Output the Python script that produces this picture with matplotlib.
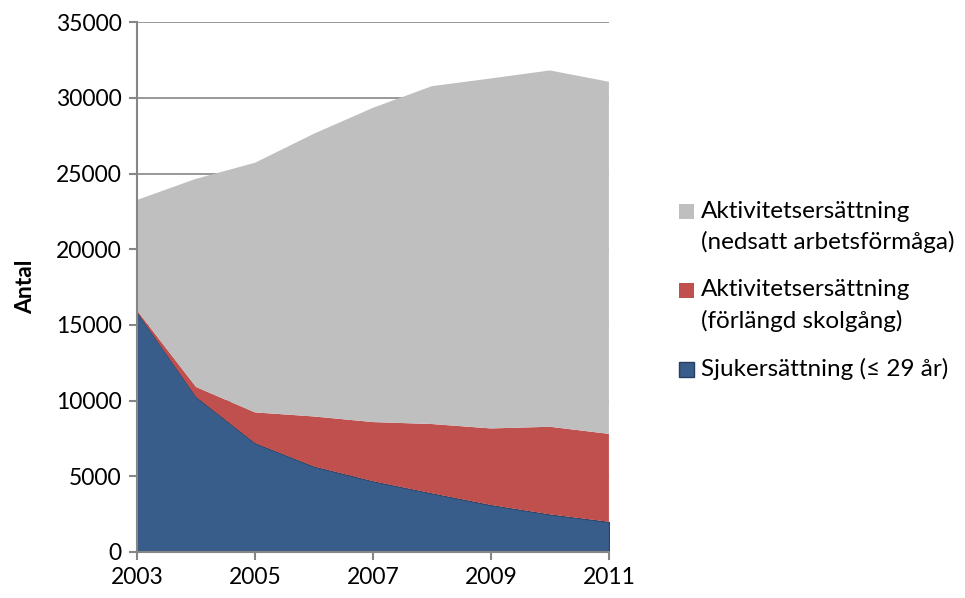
import numpy as np
import matplotlib.pyplot as plt
from matplotlib.patches import Rectangle

plt.rcParams['font.family'] = ['Lato', 'DejaVu Sans']

years = [2003, 2004, 2005, 2006, 2007, 2008, 2009, 2010, 2011]
sjuk = [15850, 10240, 7190, 5640, 4670, 3870, 3100, 2480, 1990]
skolgang = [100, 660, 2030, 3310, 3910, 4580, 5060, 5790, 5810]
nedsatt = [7300, 13750, 16490, 18680, 20760, 22320, 23120, 23540, 23260]

labels = ['Sjukersättning (≤ 29 år)',
          'Aktivitetsersättning\n(förlängd skolgång)',
          'Aktivitetsersättning\n(nedsatt arbetsförmåga)']
colors = ['#385D8A', '#C0504D', '#BFBFBF']

W, H = 965, 598
fig = plt.figure(figsize=(W / 100, H / 100), dpi=100)
ax = fig.add_axes([0.142, 0.077, 0.489, 0.886])

polys = ax.stackplot(years, sjuk, skolgang, nedsatt, colors=colors, zorder=2)
polys[0].set_edgecolor('#253f63')
polys[0].set_linewidth(0.8)
polys[1].set_linewidth(0)
polys[2].set_linewidth(0)

ax.set_xlim(2003, 2011)
ax.set_ylim(0, 35000)
ax.set_yticks(np.arange(0, 35001, 5000))
ax.set_xticks([2003, 2005, 2007, 2009, 2011])
ax.yaxis.grid(True, color='#868686', linewidth=1.2, zorder=0)
ax.set_axisbelow(True)

for s in ['top', 'right']:
    ax.spines[s].set_visible(False)
for s in ['left', 'bottom']:
    ax.spines[s].set_color('#868686')
    ax.spines[s].set_linewidth(1.5)
ax.tick_params(axis='both', colors='#868686', length=6, width=1.5,
               labelcolor='black', labelsize=16.5)
ax.tick_params(axis='x', pad=5)
ax.tick_params(axis='y', pad=5)
ax.set_ylabel('Antal', fontsize=16.5, fontweight='bold', labelpad=14)

# legend drawn by hand so the marker sits on the first text line
legend_rows = [(labels[2], colors[2], 211, 'none'),
               (labels[1], colors[1], 290, 'none'),
               (labels[0], colors[0], 369, '#253f63')]
for text, col, ypx, ec in legend_rows:
    fig.add_artist(Rectangle((679 / W, 1 - (ypx + 7.5) / H), 15 / W, 15 / H,
                             facecolor=col, edgecolor=ec, linewidth=1,
                             transform=fig.transFigure))
    for i, line in enumerate(text.split('\n')):
        fig.text(701 / W, 1 - (ypx + 31 * i) / H, line, fontsize=17.5,
                 va='center', ha='left')

fig.savefig('out.png', dpi=100)
